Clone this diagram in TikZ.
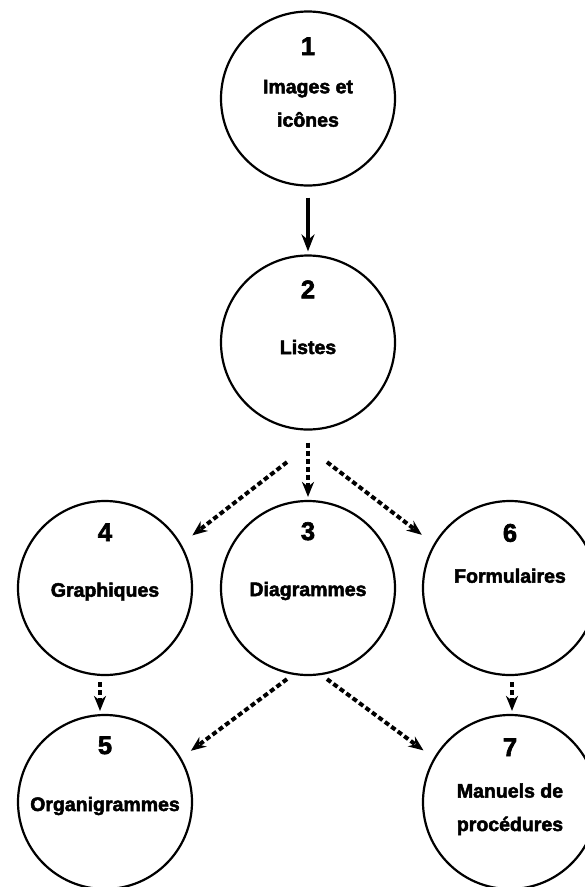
\documentclass[tikz,border=0pt]{standalone}
\usepackage{fontspec}
\setmainfont{Liberation Sans}[BoldFeatures={FakeBold=2.5}]
\usetikzlibrary{arrows.meta}

\begin{document}
\begin{tikzpicture}[->,>={Stealth[length=15pt,width=12pt]},shorten >=3pt,node distance=244pt,
                    stage/.style={circle, draw, line width=2.2pt, minimum size=174pt, inner sep=0pt},
                    num/.style={anchor=base, font=\fontsize{25.5}{30}\selectfont\bfseries},
                    txt/.style={anchor=base, align=center, font=\fontsize{19.5}{33.4}\selectfont\bfseries},
                    solidarrow/.style={line width=4pt, >={Stealth[length=17pt,width=13pt]}},
                    dasharrow/.style={line width=4pt, dash pattern=on 5pt off 3pt}]
                        \useasboundingbox (0,0) rectangle (585pt,-887pt);
                        \clip (0,0) rectangle (585pt,-887pt);

                        \node [stage](c1) at (308pt,-98.5pt){};
                        \node [stage](c2) [below of = c1]{};
                        \node [stage](c3) [below of = c2, node distance=245.5pt]{};
                        \node [stage](c4) [left of = c3, node distance=203pt]{};
                        \node [stage](c6) [right of = c3, node distance=202pt]{};
                        \node [stage](c5) [below of = c4, node distance=214pt]{};
                        \node [stage](c7) [below of = c6, node distance=214pt]{};

                        \node [num](n1) at ([yshift=43.5pt]c1.center){1};
                        \node [txt](t1) at ([yshift=-28.2pt]c1.center){Images et\\icônes};
                        \node [num](n2) at ([yshift=44.2pt]c2.center){2};
                        \node [txt](t2) at ([yshift=-11.5pt]c2.center){Listes};
                        \node [num](n3) at ([yshift=48pt]c3.center){3};
                        \node [txt](t3) at ([yshift=-8pt]c3.center){Diagrammes};
                        \node [num](n4) at ([yshift=47pt]c4.center){4};
                        \node [txt](t4) at ([yshift=-8.7pt]c4.center){Graphiques};
                        \node [num](n5) at ([yshift=48pt]c5.center){5};
                        \node [txt](t5) at ([yshift=-9pt]c5.center){Organigrammes};
                        \node [num](n6) at ([yshift=46.3pt]c6.center){6};
                        \node [txt](t6) at ([yshift=5.3pt]c6.center){Formulaires};
                        \node [num](n7) at ([yshift=46pt]c7.center){7};
                        \node [txt](t7) at ([yshift=-29pt]c7.center){Manuels de\\procédures};

                        \coordinate (f24) at ([shift={(-21pt,-31.5pt)}]c2.south);
                        \coordinate (f26) at ([shift={(19pt,-31.5pt)}]c2.south);
                        \coordinate (f35) at ([shift={(-21pt,-3pt)}]c3.south);
                        \coordinate (f37) at ([shift={(19pt,-3pt)}]c3.south);

                        \draw [solidarrow, shorten <=11pt] (c1) -- (c2);
                        \draw [dasharrow, shorten <=12pt] (c2) -- (c3);
                        \draw [dasharrow, shorten >=14pt] (f24) -- (c4.30);
                        \draw [dasharrow, shorten >=15pt] (f26) -- (c6.150);
                        \draw [dasharrow, shorten >=12pt] (f35) -- (c5.30);
                        \draw [dasharrow, shorten >=12.7pt] (f37) -- (c7.150);
                        \draw [dasharrow, shorten <=6pt] ([xshift=-5pt]c4.south) -- ([xshift=-5pt]c5.north);
                        \draw [dasharrow, shorten <=6pt] ([xshift=2pt]c6.south) -- ([xshift=2pt]c7.north);
                    \end{tikzpicture}
\end{document}
